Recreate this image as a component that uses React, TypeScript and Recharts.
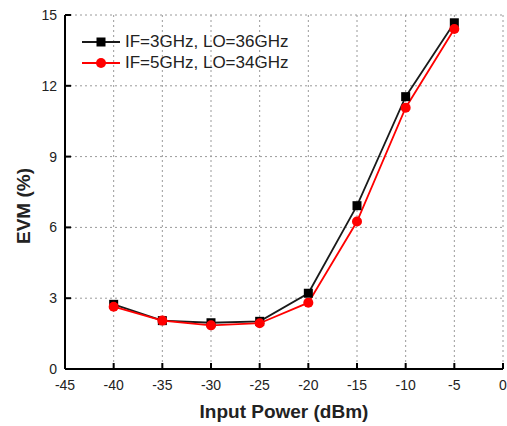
import React from "react";
import { LineChart, Line, XAxis, YAxis, CartesianGrid } from "recharts";

const inputPower = [-40, -35, -30, -25, -20, -15, -10, -5];
const evmIf3 = [2.74, 2.05, 1.96, 2.02, 3.21, 6.92, 11.54, 14.67];
const evmIf5 = [2.64, 2.05, 1.85, 1.94, 2.81, 6.25, 11.07, 14.41];
const xTicks = [-45, -40, -35, -30, -25, -20, -15, -10, -5, 0];
const yTicks = [0, 3, 6, 9, 12, 15];
const seriesNames = ["IF=3GHz, LO=36GHz", "IF=5GHz, LO=34GHz"];

const FONT = '"Liberation Sans", Arial, sans-serif';
const W = 507;
const H = 426;

const data = inputPower.map((p, i) => ({ p, a: evmIf3[i], b: evmIf5[i] }));

// ticks point into the plot, labels sit outside
const BottomTick = (props: any) => {
  const { x, y, payload } = props;
  return (
    <g>
      <line x1={x} x2={x} y1={y} y2={y - 6} stroke="#000" strokeWidth={2} />
      <text x={x} y={y + 21} textAnchor="middle" fontSize={14} fill="#222" fontFamily={FONT}>
        {payload.value}
      </text>
    </g>
  );
};

const LeftTick = (props: any) => {
  const { x, y, payload } = props;
  return (
    <g>
      <line x1={x} x2={x + 6} y1={y} y2={y} stroke="#000" strokeWidth={2} />
      <text x={x - 8} y={y + 5} textAnchor="end" fontSize={14} fill="#222" fontFamily={FONT}>
        {payload.value}
      </text>
    </g>
  );
};

const TopTick = (props: any) => {
  const { x, y } = props;
  return <line x1={x} x2={x} y1={y} y2={y + 6} stroke="#000" strokeWidth={2} />;
};

const RightTick = (props: any) => {
  const { x, y } = props;
  return <line x1={x} x2={x - 6} y1={y} y2={y} stroke="#000" strokeWidth={2} />;
};

const SquareDot = (props: any) => {
  const { cx, cy } = props;
  if (cx == null || cy == null) return null;
  return <rect x={cx - 4.5} y={cy - 4.5} width={9} height={9} fill="#000" />;
};

const CircleDot = (props: any) => {
  const { cx, cy } = props;
  if (cx == null || cy == null) return null;
  return <circle cx={cx} cy={cy} r={5} fill="#ff0000" />;
};

const YTitle = (props: any) => {
  const vb = props.viewBox || { x: 0, y: 15, width: 65, height: 354 };
  const x = vb.x + 30;
  const y = vb.y + vb.height / 2 + 14;
  return (
    <text
      x={x}
      y={y}
      transform={`rotate(-90 ${x} ${y})`}
      textAnchor="middle"
      fontSize={19}
      fontWeight="bold"
      fill="#222"
      fontFamily={FONT}
    >
      EVM (%)
    </text>
  );
};

export default function App() {
  return (
    <div style={{ position: "absolute", left: 0, top: 0, width: W, height: H, background: "#fff", fontFamily: FONT }}>
      <LineChart width={W} height={H} data={data} margin={{ top: 15, right: 4, bottom: 0, left: 0 }}>
        <CartesianGrid stroke="#9a9a9a" strokeDasharray="2 3" />
        <XAxis
          dataKey="p"
          type="number"
          domain={[-45, 0]}
          ticks={xTicks}
          interval={0}
          height={57}
          tickSize={0}
          tickMargin={0}
          tick={<BottomTick />}
          axisLine={{ stroke: "#000", strokeWidth: 2 }}
          label={{ value: "Input Power (dBm)", position: "insideBottom", offset: 8, fontSize: 19, fontWeight: "bold", fill: "#222", fontFamily: FONT }}
        />
        <XAxis
          xAxisId="top"
          dataKey="p"
          type="number"
          orientation="top"
          domain={[-45, 0]}
          ticks={xTicks}
          interval={0}
          height={0}
          tickSize={0}
          tickMargin={0}
          tick={<TopTick />}
          axisLine={{ stroke: "#000", strokeWidth: 2 }}
        />
        <YAxis
          type="number"
          domain={[0, 15]}
          ticks={yTicks}
          interval={0}
          width={65}
          tickSize={0}
          tickMargin={0}
          tick={<LeftTick />}
          axisLine={{ stroke: "#000", strokeWidth: 2 }}
          label={{ content: <YTitle /> }}
        />
        <YAxis
          yAxisId="right"
          orientation="right"
          type="number"
          domain={[0, 15]}
          ticks={yTicks}
          interval={0}
          width={0}
          tickSize={0}
          tickMargin={0}
          tick={<RightTick />}
          axisLine={{ stroke: "#000", strokeWidth: 2 }}
        />
        <Line dataKey="a" name={seriesNames[0]} stroke="#1a1a1a" strokeWidth={1.8} dot={<SquareDot />} isAnimationActive={false} />
        <Line dataKey="b" name={seriesNames[1]} stroke="#ff0000" strokeWidth={1.8} dot={<CircleDot />} isAnimationActive={false} />
      </LineChart>
      <div style={{ position: "absolute", left: 80, top: 31 }}>
        {seriesNames.map((name, i) => (
          <div key={name} style={{ display: "flex", alignItems: "center", height: 21 }}>
            <svg width={42} height={14}>
              <line x1={2} x2={40} y1={7} y2={7} stroke={i === 0 ? "#1a1a1a" : "#ff0000"} strokeWidth={1.8} />
              {i === 0 ? <rect x={16.5} y={2.5} width={9} height={9} fill="#000" /> : <circle cx={21} cy={7} r={5} fill="#ff0000" />}
            </svg>
            <span style={{ fontSize: 17, color: "#222", marginLeft: 3, whiteSpace: "nowrap" }}>{name}</span>
          </div>
        ))}
      </div>
    </div>
  );
}
